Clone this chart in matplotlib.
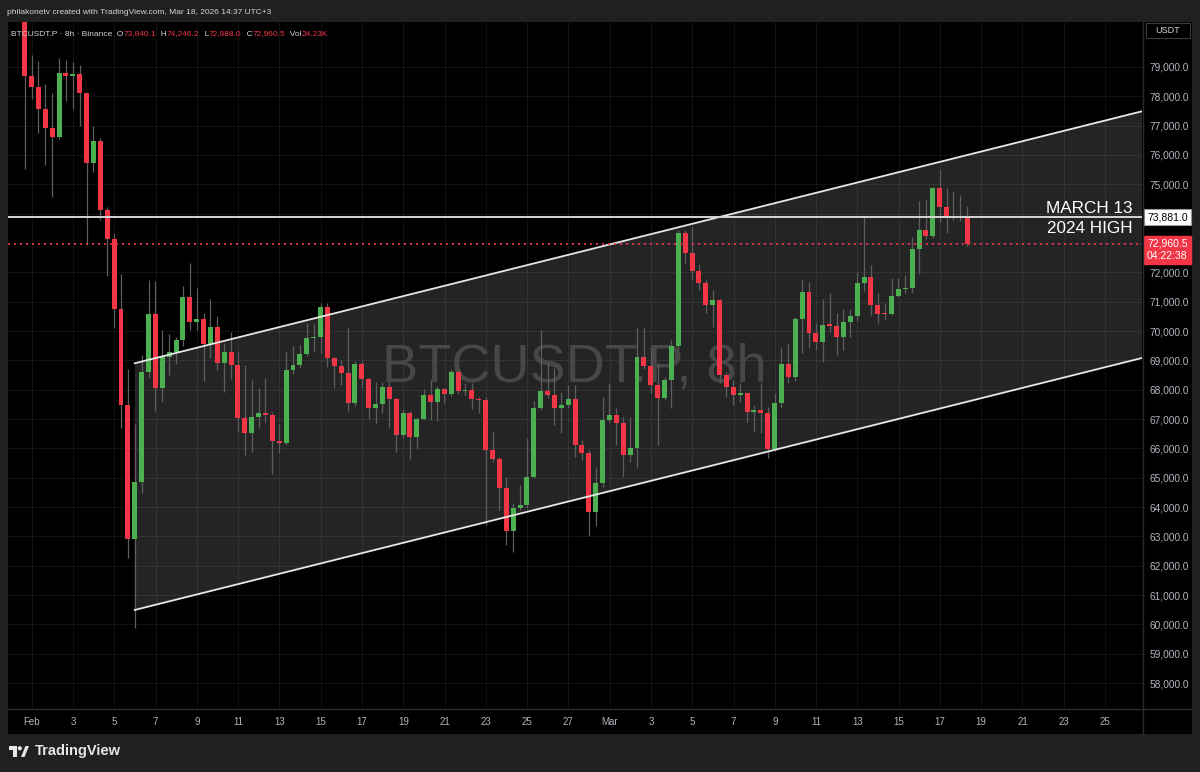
"""BTCUSDT.P 8h candles inside a rising channel, TradingView dark style."""

import matplotlib

matplotlib.use("Agg")

import matplotlib.pyplot as plt
import numpy as np
from matplotlib.lines import Line2D
from matplotlib.offsetbox import AnchoredOffsetbox, HPacker, TextArea
from matplotlib.patches import Circle, Polygon, Rectangle
from matplotlib.transforms import blended_transform_factory


# 8h bars, time counted in days from Feb 1 00:00 (UTC+3)
FIRST_BAR_DAY = -0.344
BAR_DAYS = 1 / 3

OPENS = [
    80900, 78703, 78308, 77558, 76931, 76614, 78806, 78683, 78751, 78103,
    75738, 76488, 74125, 73137, 70740, 67488, 62899, 64843, 68603, 70570,
    68067, 69124, 69274, 69693, 71159, 70307, 70409, 69567, 70126, 68899,
    69274, 68831, 67024, 66513, 67079, 67215, 67137, 66261, 66192, 68671,
    68851, 69216, 69772, 69806, 70808, 69090, 68817, 68579, 67535, 68885,
    68374, 67386, 67511, 68102, 67692, 66445, 67215, 66397, 67010, 67818,
    67570, 68013, 67842, 68603, 67960, 68000, 67672, 67640, 65944, 65647,
    64658, 63193, 63977, 64068, 65033, 67385, 67965, 67818, 67365, 67478,
    67672, 66110, 65851, 63820, 64829, 66966, 67137, 66854, 65773, 66022,
    69124, 68817, 68160, 67727, 68330, 69489, 73351, 72649, 72046, 71626,
    70887, 71057, 68500, 68101, 67818, 67876, 67249, 67297, 67195, 65967,
    67535, 68865, 68422, 70399, 71319, 69922, 69636, 70230, 70170, 69786,
    70317, 70512, 71626, 71831, 70887, 70600, 70580, 71193, 71432, 71470,
    72796, 73443, 73249, 74865, 74217, 73897, 73870, 73840.1,
]
HIGHS = [
    81200, 79409, 79205, 78420, 78124, 79317, 79249, 79170, 79068, 78150,
    76978, 76569, 74227, 73331, 71943, 68695, 66820, 69182, 71739, 71715,
    70034, 69898, 69786, 71534, 72329, 71466, 70604, 71091, 70512, 69601,
    69966, 69284, 68841, 68340, 68047, 68389, 67249, 66820, 69329, 69499,
    69513, 70263, 70239, 70945, 70945, 69120, 69012, 70147, 68967, 68967,
    68400, 68262, 68252, 68252, 67720, 67333, 67272, 67080, 68023, 68330,
    68114, 68070, 68695, 68695, 68218, 68218, 67760, 67740, 66601, 65715,
    65034, 64127, 64750, 66342, 67614, 70034, 68899, 68729, 67931, 68159,
    68159, 66284, 65944, 65374, 67761, 68218, 67365, 67079, 67079, 70092,
    70126, 69465, 68899, 68442, 69693, 73443, 73443, 73556, 72300, 71739,
    71398, 71080, 68613, 68330, 68218, 67900, 67478, 68218, 67420, 67876,
    69465, 69581, 70488, 71763, 71681, 70263, 71081, 71285, 70624, 70740,
    70740, 72022, 73876, 72250, 71306, 70945, 71797, 71797, 71909, 73215,
    74445, 74490, 74900, 75478, 74865, 74783, 74636, 74246.2,
]
LOWS = [
    75513, 77899, 76760, 75659, 74579, 76560, 77841, 77578, 76999, 72932,
    75431, 73774, 71875, 70113, 66704, 62272, 59865, 64468, 68388, 67283,
    67580, 68500, 68865, 69499, 70034, 70034, 68306, 69070, 68671, 67911,
    68364, 66547, 65773, 65865, 66683, 66908, 65115, 65852, 66100, 68524,
    68729, 69150, 69295, 69261, 68783, 68067, 68149, 67273, 67450, 68067,
    66990, 66874, 67195, 66704, 65875, 66363, 65637, 65967, 66950, 66967,
    66922, 67536, 67780, 67863, 67820, 67331, 67205, 63387, 65534, 63898,
    62705, 62477, 63900, 63950, 64990, 67300, 67706, 66796, 66513, 67380,
    65705, 65600, 63022, 63363, 64692, 66900, 66114, 65034, 65545, 65320,
    68700, 67900, 66114, 67648, 67365, 69400, 72308, 71739, 71400, 70604,
    70147, 68217, 67760, 67478, 67590, 66908, 66547, 66513, 65660, 65900,
    67365, 68217, 68300, 69240, 69410, 69352, 68954, 69950, 69182, 69352,
    69806, 70351, 71374, 70546, 70283, 70375, 70530, 71150, 71306, 71306,
    71930, 73150, 73160, 73726, 73351, 73800, 73760, 72888.0,
]
CLOSES = [
    78703, 78308, 77558, 76931, 76614, 78806, 78683, 78751, 78103, 75738,
    76488, 74125, 73137, 70740, 67488, 62899, 64843, 68603, 70570, 68067,
    69124, 69274, 69693, 71159, 70307, 70409, 69567, 70126, 68899, 69274,
    68831, 67024, 66513, 67079, 67215, 67137, 66261, 66192, 68671, 68851,
    69216, 69772, 69806, 70808, 69090, 68817, 68579, 67535, 68885, 68374,
    67386, 67511, 68102, 67692, 66445, 67215, 66397, 67010, 67818, 67570,
    68013, 67842, 68603, 67955, 68000, 67672, 67640, 65944, 65647, 64658,
    63193, 63977, 64068, 65033, 67385, 67965, 67818, 67365, 67478, 67672,
    66110, 65851, 63820, 64829, 66966, 67137, 66854, 65773, 66022, 69124,
    68817, 68160, 67727, 68330, 69489, 73351, 72649, 72046, 71626, 70887,
    71057, 68500, 68101, 67818, 67876, 67249, 67297, 67195, 65967, 67535,
    68865, 68422, 70399, 71319, 69922, 69636, 70205, 70170, 69786, 70317,
    70512, 71626, 71831, 70887, 70580, 70580, 71193, 71432, 71470, 72796,
    73443, 73249, 74865, 74217, 73897, 73870, 73840.1, 72960.5,
]
VOLUME_LABEL = "24.23K"
COUNTDOWN = "04:22:38"

DATE_TICKS = list(range(0, 53, 2))
DATE_LABELS = [
    "Feb", "3", "5", "7", "9", "11", "13", "15", "17", "19", "21", "23", "25", "27",
    "Mar", "3", "5", "7", "9", "11", "13", "15", "17", "19", "21", "23", "25",
]
PRICE_TICKS = list(range(58000, 80000, 1000))
# scale labels that sit under the two price boxes on the right
HIDDEN_PRICE_TICKS = [73000, 74000]

MARCH13_2024_HIGH = 73881.0
CHANNEL_DAYS = [4.99, 53.79]
CHANNEL_UPPER = [68900, 77490]
CHANNEL_LOWER = [60490, 69080]

SYMBOL = "BTCUSDT.P"
HEADER = "philakonetv created with TradingView.com, Mar 18, 2026 14:37 UTC+3"

W, H = 1200, 772
FRAME = "#202020"
GREEN = "#4caf50"
RED = "#f23645"
WICK = "#5e5e5e"
TEXT_GREY = "#b2b5be"
LIGHT = "#d1d4dc"

plt.rcParams["font.family"] = ["Liberation Sans", "DejaVu Sans"]


def fig_box(left, top, right, bottom):
    return [left / W, 1 - bottom / H, (right - left) / W, (bottom - top) / H]


fig = plt.figure(figsize=(W / 100, H / 100), dpi=100, facecolor=FRAME)

# black area behind chart, price scale and time scale
fig.add_artist(Rectangle((8 / W, 1 - 734 / H), 1184 / W, 712 / H,
                         transform=fig.transFigure, facecolor="black",
                         edgecolor="none", zorder=-5))

ax = fig.add_axes(fig_box(8, 22, 1142, 708))
ax.set_facecolor("black")
ax.set_xlim(-1.153, 53.79)
ax.set_ylim(57148, 80534)
ax.set_axisbelow(True)

# channel fill and watermark
ax.add_patch(Polygon(
    [(CHANNEL_DAYS[0], CHANNEL_UPPER[0]), (CHANNEL_DAYS[1], CHANNEL_UPPER[1]),
     (CHANNEL_DAYS[1], CHANNEL_LOWER[1]), (CHANNEL_DAYS[0], CHANNEL_LOWER[0])],
    facecolor="#242424", edgecolor="none", zorder=0.2))
ax.text(0.4991, 0.4757, f"{SYMBOL}, 8h", transform=ax.transAxes, ha="center",
        va="baseline", fontsize=39, color="#474747", zorder=0.8)

# candles
opens = np.array(OPENS, dtype=float)
highs = np.array(HIGHS, dtype=float)
lows = np.array(LOWS, dtype=float)
closes = np.array(CLOSES, dtype=float)
times = FIRST_BAR_DAY + np.arange(len(closes)) * BAR_DAYS
colors = np.where(closes >= opens, GREEN, RED)

ax.vlines(times, lows, highs, colors=WICK, linewidth=0.9, zorder=2)
ax.bar(times, np.maximum(np.abs(closes - opens), 35),
       bottom=np.minimum(opens, closes), width=0.24, color=colors,
       linewidth=0, zorder=3)

# drawings
price_trans = blended_transform_factory(ax.transAxes, ax.transData)
ax.plot(CHANNEL_DAYS, CHANNEL_UPPER, color="#e8e8e8", linewidth=1.3, zorder=4)
ax.plot(CHANNEL_DAYS, CHANNEL_LOWER, color="#e8e8e8", linewidth=1.3, zorder=4)
ax.axhline(MARCH13_2024_HIGH, color="#d6d6d6", linewidth=1.4, zorder=4)
ax.axhline(closes[-1], color=RED, linewidth=1.2, dashes=(1.2, 2.4), zorder=4)

ax.text(0.9914, 74013, "MARCH 13", transform=price_trans,
        ha="right", va="baseline", fontsize=12.3, color="white", zorder=5)
ax.text(0.9914, 73331, "2024 HIGH", transform=price_trans,
        ha="right", va="baseline", fontsize=12.3, color="white", zorder=5)

# axes styling
ax.set_xticks(DATE_TICKS, DATE_LABELS)
ax.set_yticks(PRICE_TICKS, ["" if value in HIDDEN_PRICE_TICKS else f"{value:,.1f}"
                            for value in PRICE_TICKS])
ax.yaxis.tick_right()
ax.tick_params(axis="x", length=0, labelsize=7, labelcolor=TEXT_GREY, pad=6.5)
ax.tick_params(axis="y", length=0, labelsize=7.3, labelcolor=TEXT_GREY, pad=5.5)
ax.grid(True, color="white", alpha=0.07, linewidth=0.8)
for spine in ax.spines.values():
    spine.set_visible(False)

# price scale labels
ax.text(1.0045, MARCH13_2024_HIGH, f"{MARCH13_2024_HIGH:,.1f}", transform=price_trans,
        ha="left", va="center", fontsize=7.5, color="black", zorder=6, clip_on=False,
        bbox=dict(boxstyle="square,pad=0.3", facecolor="white", edgecolor="#9a9a9a", linewidth=0.8))
ax.annotate(f"{closes[-1]:,.1f}\n{COUNTDOWN}", xy=(1.0045, closes[-1]), xycoords=price_trans,
            xytext=(0, -4), textcoords="offset points", ha="left", va="center",
            fontsize=7.5, color="white", linespacing=1.25, zorder=6, annotation_clip=False,
            bbox=dict(boxstyle="square,pad=0.3", facecolor=RED, edgecolor=RED))

# overlay in pixel coordinates for frame furniture
ov = fig.add_axes([0, 0, 1, 1], zorder=10)
ov.set_xlim(0, W)
ov.set_ylim(H, 0)
ov.axis("off")
ov.patch.set_alpha(0)

ov.add_line(Line2D([1142.5, 1142.5], [22, 734], color="#2b2b2b", linewidth=1))
ov.add_line(Line2D([8, 1192], [708.5, 708.5], color="#2b2b2b", linewidth=1))

ov.text(7, 12, HEADER, fontsize=6, color=LIGHT, va="center", ha="left")

ov.add_patch(Rectangle((1146, 23), 44, 15, facecolor="black", edgecolor="#3c3c3c", linewidth=0.8))
ov.text(1168, 30.5, "USDT", fontsize=6.5, color=LIGHT, ha="center", va="center")

segments = [
    (f"{SYMBOL} · 8h · Binance", LIGHT),
    ("  O", LIGHT), (f"{opens[-1]:,.1f}", RED),
    ("  H", LIGHT), (f"{highs[-1]:,.1f}", RED),
    ("  L", LIGHT), (f"{lows[-1]:,.1f}", RED),
    ("  C", LIGHT), (f"{closes[-1]:,.1f}", RED),
    ("  Vol", LIGHT), (VOLUME_LABEL, RED),
]
legend_row = HPacker(
    children=[TextArea(text, textprops=dict(color=color, fontsize=6)) for text, color in segments],
    align="baseline", pad=0, sep=0)
ov.add_artist(AnchoredOffsetbox(loc="center left", child=legend_row, frameon=False, pad=0,
                                borderpad=0, bbox_to_anchor=(11 / W, 1 - 34 / H),
                                bbox_transform=fig.transFigure))

# TradingView footer logo
ov.add_patch(Rectangle((8.5, 746), 8, 4, facecolor="#e6e6e6", edgecolor="none"))
ov.add_patch(Rectangle((12.5, 746), 4, 11, facecolor="#e6e6e6", edgecolor="none"))
ov.add_patch(Circle((19.8, 748.3), 2.1, facecolor="#e6e6e6", edgecolor="none"))
ov.add_patch(Polygon([(21, 757), (25.5, 746), (29, 746), (24.5, 757)],
                     facecolor="#e6e6e6", edgecolor="none"))
ov.text(34.5, 751.5, "TradingView", fontsize=10.5, fontweight="bold", color="#e6e6e6",
        ha="left", va="center")

fig.savefig("out.png", dpi=100, facecolor=FRAME)
